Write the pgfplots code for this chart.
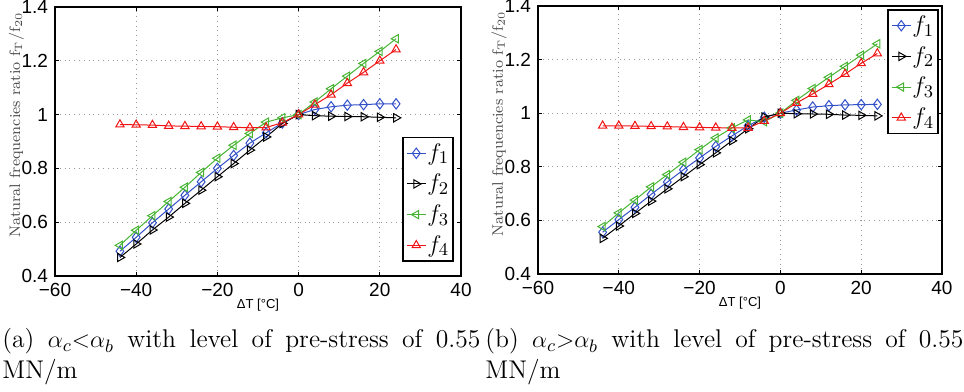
\documentclass[border=0pt]{standalone}
\usepackage{fontspec}
\usepackage{pgfplots}
\pgfplotsset{compat=1.18}
\usepackage{pgfplotstable}
\newfontfamily\tickfont{Liberation Sans}
\definecolor{mblue}{RGB}{50,80,200}
\definecolor{mgreen}{RGB}{70,180,50}
\definecolor{mred}{RGB}{240,20,20}

\pgfplotstableread{
x f1 f2 f3 f4
-44 0.492 0.469 0.514 0.963
-40 0.544 0.519 0.570 0.962
-36 0.598 0.571 0.624 0.961
-32 0.649 0.619 0.677 0.958
-28 0.700 0.670 0.730 0.957
-24 0.750 0.719 0.785 0.956
-20 0.800 0.769 0.838 0.955
-16 0.848 0.818 0.886 0.953
-12 0.894 0.868 0.930 0.951
-8 0.932 0.917 0.972 0.952
-4 0.969 0.967 0.988 0.970
0 1.000 1.000 1.000 1.000
4 1.019 0.996 1.047 1.037
8 1.029 0.994 1.096 1.074
12 1.035 0.993 1.143 1.117
16 1.037 0.992 1.190 1.157
20 1.040 0.990 1.235 1.200
24 1.040 0.988 1.282 1.242
}\dataA

\pgfplotstableread{
x f1 f2 f3 f4
-44 0.556 0.533 0.577 0.953
-40 0.603 0.579 0.628 0.953
-36 0.649 0.626 0.676 0.952
-32 0.697 0.672 0.725 0.951
-28 0.743 0.718 0.771 0.950
-24 0.789 0.763 0.817 0.948
-20 0.833 0.808 0.864 0.947
-16 0.876 0.852 0.908 0.946
-12 0.915 0.897 0.945 0.945
-8 0.953 0.942 0.975 0.945
-4 0.985 0.986 0.968 0.971
0 1.000 1.000 1.000 1.000
4 1.012 0.998 1.048 1.038
8 1.023 0.997 1.092 1.072
12 1.028 0.996 1.134 1.108
16 1.031 0.993 1.175 1.146
20 1.032 0.992 1.217 1.186
24 1.033 0.990 1.259 1.223
}\dataB

\pgfplotsset{
  myaxis/.style={
    scale only axis,
    xmin=-60, xmax=40, ymin=0.4, ymax=1.4,
    xtick={-60,-40,-20,0,20,40},
    xticklabels={−60,−40,−20,0,20,40},
    ytick={0.4,0.6,0.8,1,1.2,1.4},
    yticklabels={0.4,0.6,0.8,1,1.2,1.4},
    tick label style={font=\tickfont\fontsize{9.5}{10}\selectfont},
    tick align=inside, major tick length=2pt,
    grid=major, major grid style={dotted, black!40, line width=0.5pt},
    axis line style={line width=0.6pt},
    every tick/.style={black, line width=0.5pt},
    xlabel={ΔT [°C]},
    xlabel style={font=\tickfont\fontsize{6.5}{7}\selectfont, at={(axis description cs:0.5,-0.108)}, anchor=center},
    ylabel={Natural frequencies ratio f\textsubscript{T}/f\textsubscript{20}},
    ylabel style={font=\fontsize{7.6}{8}\selectfont, text=black!70, anchor=center},
    legend style={draw=black, line width=0.9pt, font=\fontsize{13}{15}\selectfont,
      inner xsep=1.5pt, inner ysep=2.5pt, row sep=4.5pt, cells={anchor=west}, fill=white,
      nodes={inner xsep=0.5pt, inner ysep=0.5pt}},
    legend image code/.code={\draw[mark repeat=2,mark phase=2,#1] plot coordinates {(0pt,0pt)(4.75pt,0pt)(9.5pt,0pt)};},
  },
  s1/.style={color=mblue, line width=0.5pt, mark=diamond, mark size=2.6pt, mark options={solid, line width=0.5pt}},
  s2/.style={color=black, line width=0.5pt, mark=triangle, mark size=2.4pt, mark options={solid, rotate=-90, line width=0.5pt}},
  s3/.style={color=mgreen, line width=0.5pt, mark=triangle, mark size=2.4pt, mark options={solid, rotate=90, line width=0.5pt}},
  s4/.style={color=mred, line width=0.5pt, mark=triangle, mark size=2.4pt, mark options={solid, line width=0.5pt}},
}

\begin{document}
\begin{tikzpicture}
\useasboundingbox (0,0) rectangle (482pt,195.5pt);
\begin{axis}[myaxis, width=203pt, height=134.5pt, at={(27.5pt,57.5pt)}, anchor=south west,
  ylabel style={at={(axis description cs:-0.095,0.561)}},
  legend style={at={(1,0)}, anchor=south east, xshift=-3.5pt, yshift=7pt}]
\addplot[s1] table[x=x,y=f1] {\dataA}; \addlegendentry{$f_{1}$}
\addplot[s2] table[x=x,y=f2] {\dataA}; \addlegendentry{$f_{2}$}
\addplot[s3] table[x=x,y=f3] {\dataA}; \addlegendentry{$f_{3}$}
\addplot[s4] table[x=x,y=f4] {\dataA}; \addlegendentry{$f_{4}$}
\end{axis}
\begin{axis}[myaxis, width=202pt, height=134pt, at={(269pt,58.5pt)}, anchor=south west,
  ylabel style={at={(axis description cs:-0.0965,0.561)}},
  legend style={at={(1,1)}, anchor=north east, xshift=-1.5pt, yshift=-1.5pt}]
\addplot[s1] table[x=x,y=f1] {\dataB}; \addlegendentry{$f_{1}$}
\addplot[s2] table[x=x,y=f2] {\dataB}; \addlegendentry{$f_{2}$}
\addplot[s3] table[x=x,y=f3] {\dataB}; \addlegendentry{$f_{3}$}
\addplot[s4] table[x=x,y=f4] {\dataB}; \addlegendentry{$f_{4}$}
\end{axis}
\node[anchor=base west, inner sep=0pt, font=\fontsize{12.8}{15}\selectfont] at (1pt,21.5pt)
  {\makebox[239pt][s]{(a) $\alpha_c{<}\alpha_b$ with level of pre-stress of 0.55}};
\node[anchor=base west, inner sep=0pt, font=\fontsize{12.8}{15}\selectfont] at (1pt,6pt) {MN/m};
\node[anchor=base west, inner sep=0pt, font=\fontsize{12.8}{15}\selectfont] at (242.5pt,21.5pt)
  {\makebox[239pt][s]{(b) $\alpha_c{>}\alpha_b$ with level of pre-stress of 0.55}};
\node[anchor=base west, inner sep=0pt, font=\fontsize{12.8}{15}\selectfont] at (242.5pt,6pt) {MN/m};
\end{tikzpicture}
\end{document}
